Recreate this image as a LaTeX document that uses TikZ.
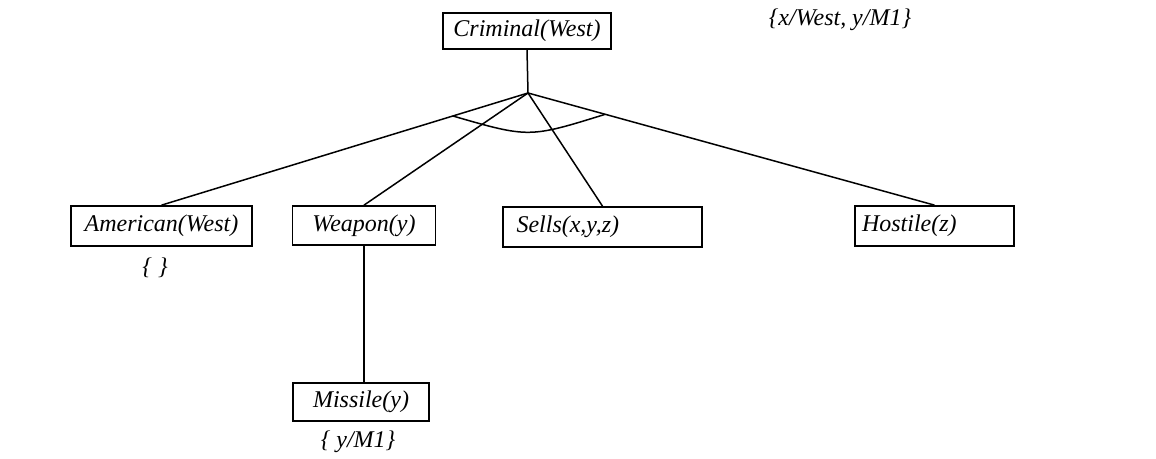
\documentclass[tikz,border=0pt]{standalone}
\usepackage{fontspec}
\setmainfont{Liberation Serif}
\usetikzlibrary{calc}
\begin{document}
\begin{tikzpicture}[x=0.5pt,y=-0.5pt,
  every node/.style={font=\fontsize{12}{14}\selectfont\itshape},
  box/.style={draw, line width=0.85pt, inner ysep=0pt, align=center},
  link/.style={line width=0.75pt}]
\useasboundingbox (0,0) rectangle (1156,459);
% boxes
\node[box, inner xsep=0pt, text width=84pt, minimum height=18pt] (crim) at (527,31) {Criminal(West)};
\node[box, inner xsep=0pt, text width=90.5pt, minimum height=20pt] (am) at (161.5,226) {American(West)};
\node[box, inner xsep=0pt, text width=71.5pt, minimum height=19.5pt] (we) at (364,225.5) {Weapon(y)};
\node[box, inner xsep=0pt, text width=68pt, minimum height=19pt] (mi) at (361,402) {Missile(y)};
\node[box, inner xsep=6.75pt, text width=86pt, minimum height=20pt, align=left] (se) at (602.5,227) {Sells(x,y,z)};
\node[box, inner xsep=3.5pt, text width=72.5pt, minimum height=20pt, align=left] (ho) at (934.5,226) {Hostile(z)};
% labels
\node (sub) at (840,20) {\{x/West, y/M1\}};
\node (emp) at (155,268) {\{ \}};
\node (msub) at (358,442) {\{ y/M1\}};
% connectors
\coordinate (J) at (528,93);
\draw[link] (crim.south) -- (J);
\draw[link] (J) -- (am.north);
\draw[link] (J) -- (we.north);
\draw[link] (J) -- (se.north);
\draw[link] (J) -- (ho.north);
\draw[link] (we.south) -- (we.south |- mi.north);
% and-arc
\coordinate (arcL) at ($(J)!0.205!(am.north)$);
\coordinate (arcR) at ($(J)!0.19!(ho.north)$);
\draw[link] (arcL) .. controls (529,138) .. (arcR);
\end{tikzpicture}
\end{document}
